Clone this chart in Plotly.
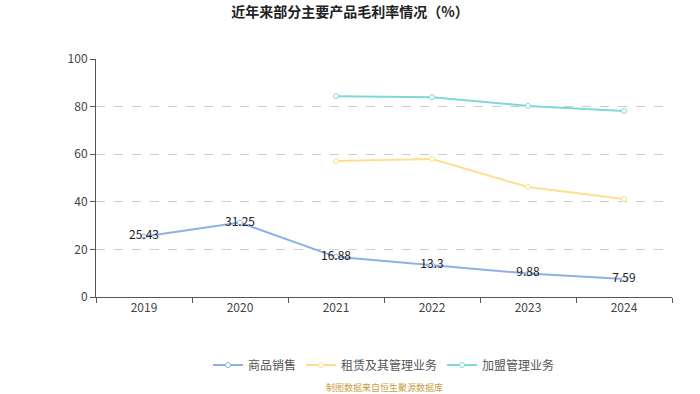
import plotly.graph_objects as go

years = ["2019", "2020", "2021", "2022", "2023", "2024"]
goods_sales = [25.43, 31.25, 16.88, 13.3, 9.88, 7.59]
leasing = [None, None, 57.1, 58.0, 46.2, 41.2]
franchise = [None, None, 84.4, 83.9, 80.3, 78.2]

names = ["商品销售", "租赁及其管理业务", "加盟管理业务"]
colors = ["#8fb1e6", "#fddf8e", "#7dd9d9"]

FONT = "Noto Sans CJK SC, Noto Sans, sans-serif"

fig = go.Figure()
fig.add_trace(go.Scatter(
    x=years, y=goods_sales, name=names[0], mode="lines+markers+text",
    text=[str(v) for v in goods_sales], textposition="middle center",
    textfont=dict(size=12, color="#222222", family=FONT),
    line=dict(color=colors[0], width=2),
    marker=dict(symbol="circle", size=5, color="white", line=dict(color=colors[0], width=1)),
))
fig.add_trace(go.Scatter(
    x=years, y=leasing, name=names[1], mode="lines+markers",
    line=dict(color=colors[1], width=2),
    marker=dict(symbol="circle", size=5, color="white", line=dict(color=colors[1], width=1)),
))
fig.add_trace(go.Scatter(
    x=years, y=franchise, name=names[2], mode="lines+markers",
    line=dict(color=colors[2], width=2),
    marker=dict(symbol="circle", size=5, color="white", line=dict(color=colors[2], width=1)),
))

fig.update_layout(
    width=700, height=394,
    margin=dict(l=96, r=28, t=59, b=97),
    paper_bgcolor="white", plot_bgcolor="white",
    font=dict(family=FONT, size=12, color="#333333"),
    title=dict(text="<b>近年来部分主要产品毛利率情况（%）</b>", x=0.5, xanchor="center",
               y=1 - 12 / 394, yanchor="middle", yref="container",
               font=dict(size=14, color="#222222", family=FONT)),
    showlegend=True,
    legend=dict(orientation="h", x=0.5, xanchor="center", y=-0.286, yanchor="middle",
                font=dict(size=12, color="#555555", family=FONT), itemwidth=30),
    xaxis=dict(type="category", range=[-0.5, 5.5], showline=True, linecolor="#555555",
               linewidth=1, ticks="outside", tickson="boundaries", ticklen=5,
               tickcolor="#555555", showgrid=False, tickfont=dict(size=12, color="#444444")),
    yaxis=dict(range=[0, 100], tickvals=[0, 20, 40, 60, 80, 100], showline=True,
               linecolor="#555555", linewidth=1, ticks="outside", ticklen=5,
               tickcolor="#555555", showgrid=True, gridcolor="#cccccc", griddash="dash",
               gridwidth=1, zeroline=False, tickfont=dict(size=12, color="#444444")),
    annotations=[dict(text="制图数据来自恒生聚源数据库", x=0.5, xref="paper", xanchor="center",
                      y=-0.382, yref="paper", yanchor="middle", showarrow=False,
                      font=dict(size=9, color="#c8a045", family=FONT))],
)

fig.write_html("out.html", config={"displayModeBar": False},
               post_script="document.body.style.margin='0';document.body.style.overflow='hidden';")
